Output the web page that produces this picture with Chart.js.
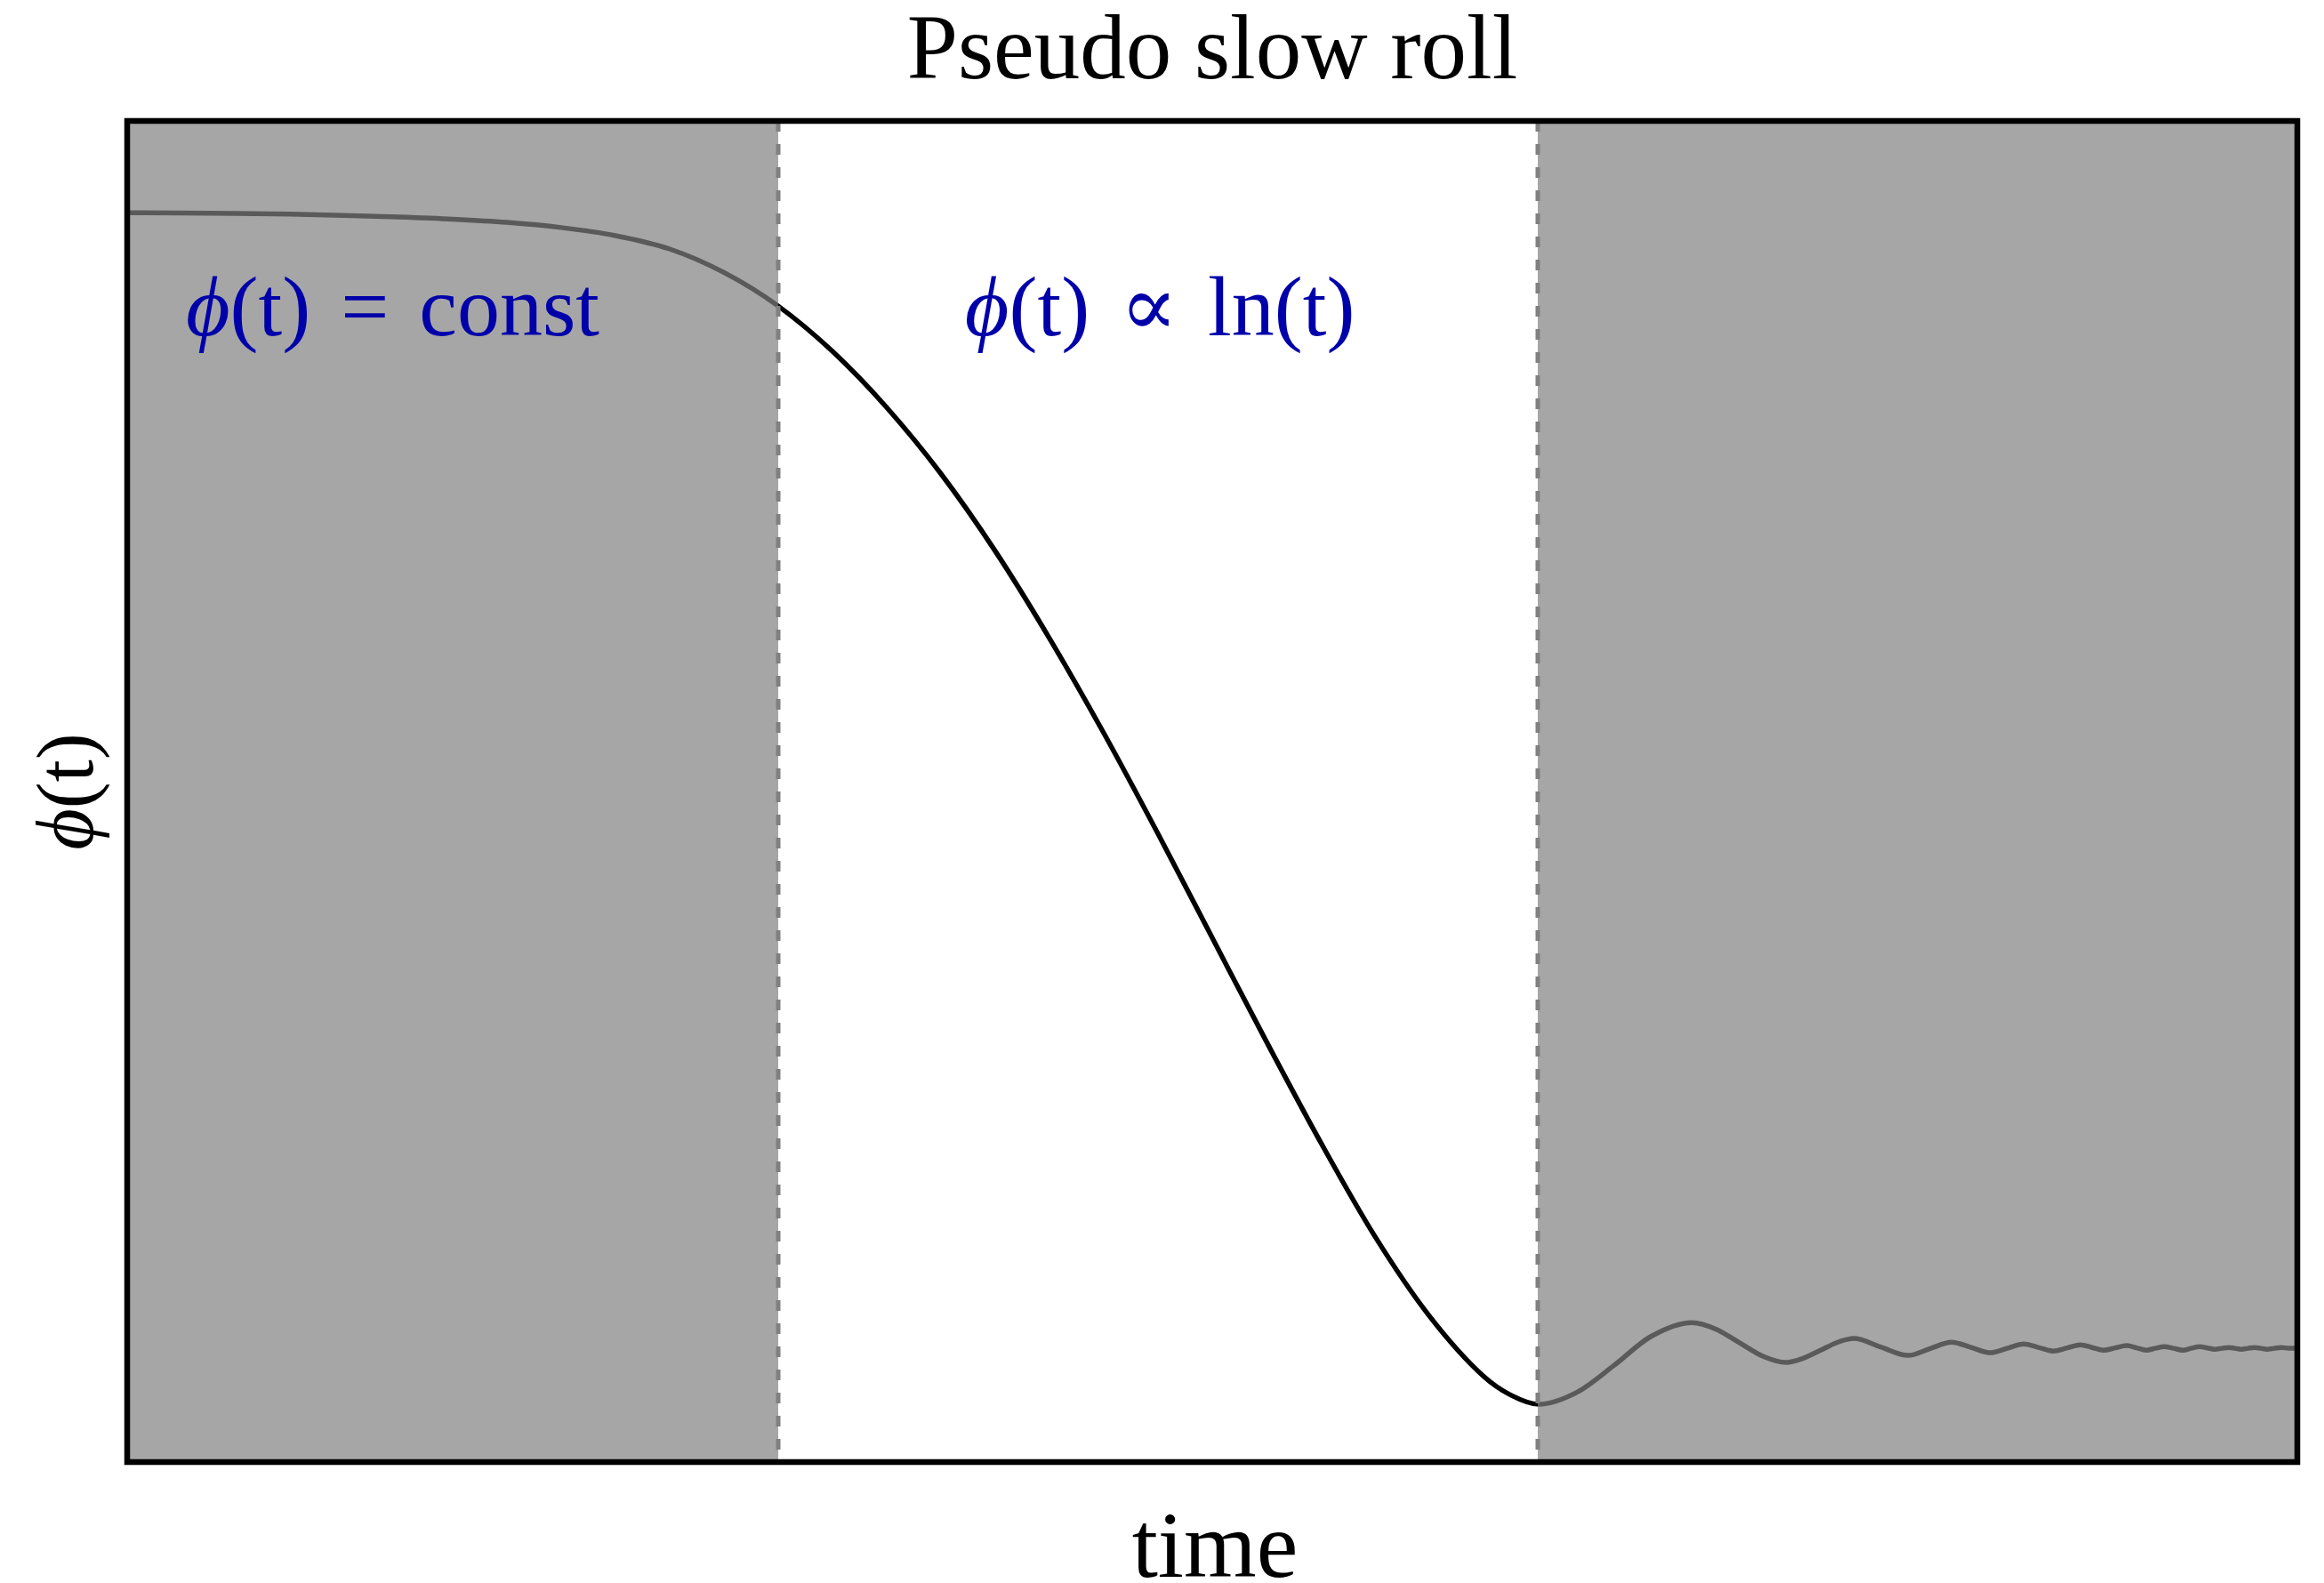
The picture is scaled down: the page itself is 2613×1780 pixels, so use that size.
<!DOCTYPE html>
<html>
<head>
<meta charset="utf-8">
<script src="https://cdn.jsdelivr.net/npm/chart.js@4.4.1/dist/chart.umd.min.js"></script>
<style>
  html, body { margin: 0; padding: 0; background: #ffffff; }
  #wrap { width: 2613px; height: 1780px; }
</style>
</head>
<body>
<div id="wrap"><canvas id="c" width="2613" height="1780"></canvas></div>
<script>
// Field trajectory phi(t): plateau, logarithmic roll, then damped oscillation
const time = [0, 0.25, 0.5, 0.75, 1.0, 1.25, 1.5, 1.75, 2.0, 2.25,
  2.5, 2.75, 3.0, 3.25, 3.5, 3.75, 4.0, 4.25, 4.5, 4.75,
  5.0, 5.25, 5.5, 5.75, 6.0, 6.25, 6.375, 6.505,
  6.68, 6.851, 7.02, 7.211, 7.32, 7.428, 7.54, 7.645, 7.72, 7.801, 7.88, 7.957,
  8.08, 8.206, 8.306, 8.407, 8.497, 8.587, 8.663, 8.739, 8.806, 8.874,
  8.94, 9.001, 9.054, 9.107, 9.16, 9.214, 9.26, 9.304, 9.345, 9.386,
  9.43, 9.472, 9.51, 9.550, 9.585, 9.619, 9.652, 9.685, 9.713, 9.742,
  9.772, 9.803, 9.832, 9.861, 9.893, 9.926, 9.96, 10.0];
const phi = [0.9315, 0.9314, 0.9311, 0.9305, 0.9296, 0.9284, 0.9268, 0.9244, 0.9205, 0.9145,
  0.9045, 0.8870, 0.8620, 0.8282, 0.7863, 0.7369, 0.6793, 0.6142, 0.5436, 0.4685,
  0.3909, 0.3134, 0.2383, 0.1682, 0.1090, 0.0640, 0.0500, 0.0431,
  0.0520, 0.0720, 0.0935, 0.1040, 0.0992, 0.0891, 0.0787, 0.0742, 0.0772, 0.0832, 0.0892, 0.0921,
  0.0858, 0.0795, 0.0845, 0.0894, 0.0855, 0.0815, 0.0848, 0.0881, 0.0855, 0.0828,
  0.0851, 0.0874, 0.0854, 0.0834, 0.0851, 0.0868, 0.0851, 0.0834, 0.0848, 0.0861,
  0.0848, 0.0834, 0.0848, 0.0861, 0.0851, 0.0841, 0.0848, 0.0854, 0.0848, 0.0841,
  0.0848, 0.0854, 0.0848, 0.0841, 0.0848, 0.0854, 0.0849, 0.0848];

// Boundaries of the pseudo slow-roll window (time units)
const phaseEdges = [3.0, 6.5];

// Region annotations: [italic symbol, remaining text, time, phi]
const phaseLabels = [
  ['\u03D5', '(t) = const', 0.27, 0.84],
  ['\u03D5', '(t) \u221D ln(t)', 3.86, 0.84]
];

const titleText = 'Pseudo slow roll';
const xLabel = 'time';
const yLabel = ['\u03D5', '(t)'];

const SERIF = "'Liberation Serif', 'DejaVu Serif', serif";

const decorPlugin = {
  id: 'decor',
  afterDatasetsDraw(chart) {
    const { ctx, chartArea: a, scales: { x, y } } = chart;
    const x0 = x.getPixelForValue(phaseEdges[0]);
    const x1 = x.getPixelForValue(phaseEdges[1]);
    ctx.save();
    // shaded outer phases drawn over the curve
    ctx.fillStyle = 'rgba(128,128,128,0.7)';
    ctx.fillRect(a.left, a.top, x0 - a.left, a.bottom - a.top);
    ctx.fillRect(x1, a.top, a.right - x1, a.bottom - a.top);
    // dashed phase boundaries
    ctx.strokeStyle = '#808080';
    ctx.lineWidth = 5;
    ctx.setLineDash([12, 14]);
    [x0, x1].forEach(px => {
      ctx.beginPath();
      ctx.moveTo(px, a.top);
      ctx.lineTo(px, a.bottom);
      ctx.stroke();
    });
    ctx.setLineDash([]);
    // frame
    ctx.strokeStyle = '#000000';
    ctx.lineWidth = 6.5;
    ctx.strokeRect(a.left, a.top, a.right - a.left, a.bottom - a.top);

    // phase annotations
    ctx.fillStyle = '#0000aa';
    ctx.textBaseline = 'alphabetic';
    ctx.textAlign = 'left';
    if ('wordSpacing' in ctx) ctx.wordSpacing = '10px';
    phaseLabels.forEach(([sym, rest, tx, ty]) => {
      let px = x.getPixelForValue(tx);
      const py = y.getPixelForValue(ty);
      ctx.font = 'italic 96px ' + SERIF;
      ctx.fillText(sym, px, py);
      px += ctx.measureText(sym).width;
      ctx.font = '96px ' + SERIF;
      ctx.fillText(rest, px, py);
    });
    if ('wordSpacing' in ctx) ctx.wordSpacing = '0px';

    // title and axis labels
    const cx = (a.left + a.right) / 2;
    const cy = (a.top + a.bottom) / 2;
    ctx.fillStyle = '#000000';
    ctx.textAlign = 'center';
    ctx.font = '103px ' + SERIF;
    ctx.fillText(titleText, cx, 88);
    ctx.font = '105px ' + SERIF;
    ctx.fillText(xLabel, cx + 3, 1773);

    ctx.translate(104, cy);
    ctx.rotate(-Math.PI / 2);
    ctx.font = 'italic 90px ' + SERIF;
    const w0 = ctx.measureText(yLabel[0]).width;
    ctx.font = '90px ' + SERIF;
    const w1 = ctx.measureText(yLabel[1]).width;
    const sx = -(w0 + w1) / 2;
    ctx.textAlign = 'left';
    ctx.font = 'italic 90px ' + SERIF;
    ctx.fillText(yLabel[0], sx, 0);
    ctx.font = '90px ' + SERIF;
    ctx.fillText(yLabel[1], sx + w0, 0);
    ctx.restore();
  }
};

new Chart(document.getElementById('c'), {
  type: 'line',
  data: {
    datasets: [{
      data: time.map((t, i) => ({ x: t, y: phi[i] })),
      borderColor: '#000000',
      borderWidth: 5.5,
      pointRadius: 0,
      cubicInterpolationMode: 'monotone',
      fill: false
    }]
  },
  options: {
    responsive: false,
    devicePixelRatio: 1,
    animation: false,
    layout: { padding: { left: 143, top: 136, right: 30, bottom: 136 } },
    plugins: { legend: { display: false }, tooltip: { enabled: false }, title: { display: false } },
    scales: {
      x: { type: 'linear', min: 0, max: 10, display: false },
      y: { type: 'linear', min: 0, max: 1, display: false }
    }
  },
  plugins: [decorPlugin]
});
</script>
</body>
</html>
